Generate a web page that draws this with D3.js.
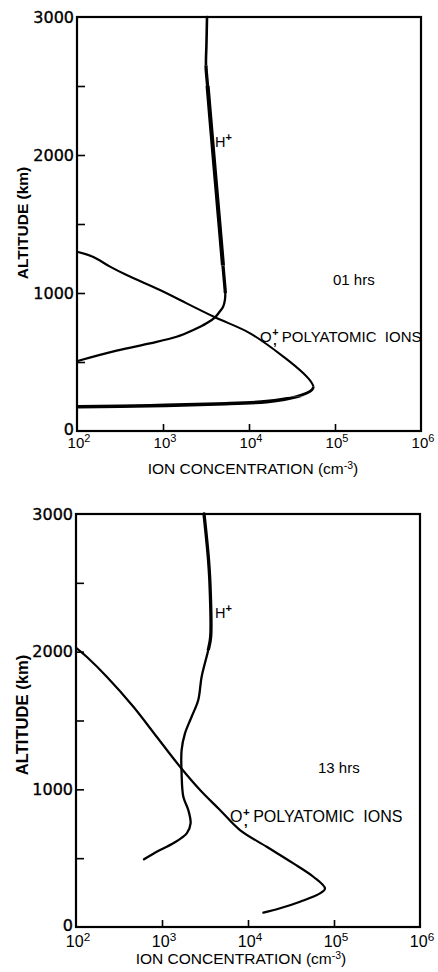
<!DOCTYPE html>
<html>
<head>
<meta charset="utf-8">
<script src="https://cdn.jsdelivr.net/npm/d3@7"></script>
<style>
  body { margin: 0; background: #fff; }
  text { font-family: "Liberation Sans", Arial, sans-serif; fill: #000; }
  .num { font-family: "DejaVu Sans", sans-serif; }
</style>
</head>
<body>
<svg id="chart" width="438" height="972"></svg>
<script>
// ---- 01 hrs profiles (altitude in km, concentration in cm^-3) ----
const hAlt01  = [3000, 2800, 2650, 2500, 2000, 1500, 1200, 1050, 1000, 950, 900, 860, 824, 780, 732, 683, 635, 582, 509];
const hConc01 = [3250, 3200, 3160, 3300, 3860, 4530, 4980, 5230, 5300, 5250, 5000, 4500, 4030, 3210, 2250, 1440, 706, 289, 104];

const oAlt01  = [1299, 1263, 1191, 1130, 1022, 949, 824, 708, 539, 418, 350, 321, 297, 249, 213, 196, 183, 176];
const oConc01 = [100, 153, 242, 378, 922, 1580, 4030, 10300, 25100, 42900, 53500, 56000, 53700, 35800, 16000, 4210, 706, 104];

// ---- 13 hrs profiles ----
const hAlt13  = [3000, 2690, 2495, 2108, 2012, 1818, 1649, 1527, 1406, 1285, 1116, 946, 850, 753, 680, 608, 547, 492];
const hConc13 = [3080, 3450, 3610, 3680, 3450, 2890, 2640, 2210, 1850, 1690, 1690, 1770, 2020, 2150, 1940, 1350, 867, 618];

const oAlt13  = [2024, 1963, 1818, 1600, 1382, 1164, 995, 850, 704, 583, 462, 365, 280, 244, 184, 136, 104];
const oConc13 = [102, 133, 228, 465, 867, 1620, 2770, 4720, 8070, 16500, 33700, 57500, 78500, 68700, 40300, 23600, 15100];

// ---- axis ticks ----
const xTickExps   = [2, 3, 4, 5, 6];
const yTickLabels = [0, 1000, 2000, 3000];
const yTickMarks  = [500, 1000, 1500, 2000, 2500];
const xTickMarks  = [1e3, 1e4, 1e5];

const svg = d3.select("#chart");
const defs = svg.append("defs");
let clipId = 0;

function zip(alts, concs) {
  return alts.map((a, i) => ({ a, c: concs[i] }));
}

// "O" with a "+" stacked over a ",", then the rest of the label
function ionLabel(g, x, y, fs, rest) {
  const t = g.append("text").attr("x", x).attr("y", y).attr("font-size", fs)
    .attr("xml:space", "preserve");
  t.append("tspan").text("O");
  const plus = t.append("tspan").attr("dx", 0.5).attr("dy", -fs * 0.38)
    .attr("font-size", fs * 0.72).attr("font-weight", "bold").text("+");
  const pw = plus.node().getComputedTextLength();
  t.append("tspan").attr("dx", -pw + 1).attr("dy", fs * 0.6)
    .attr("font-size", fs * 0.8).attr("font-weight", "bold").text(",");
  t.append("tspan").attr("dx", fs * 0.35).attr("dy", -fs * 0.22).text(rest);
}

function drawPanel(p) {
  const x = d3.scaleLog().domain([1e2, 1e6]).range([p.x0, p.x1]);
  const y = d3.scaleLinear().domain([0, 3000]).range([p.y1, p.y0]);
  const g = svg.append("g");
  const k = p.scale;

  const line = d3.line()
    .x(d => x(d.c))
    .y(d => y(d.a))
    .curve(d3.curveCatmullRom.alpha(0.5));

  // each curve is one path; the pen weight changes by altitude band
  p.curves.forEach(cv => {
    const d = line(cv.pts);
    cv.bands.forEach(b => {
      const id = "band" + (clipId++);
      defs.append("clipPath").attr("id", id)
        .append("rect")
        .attr("x", 0).attr("width", 438)
        .attr("y", y(b.hi)).attr("height", y(b.lo) - y(b.hi));
      g.append("path")
        .attr("d", d)
        .attr("clip-path", `url(#${id})`)
        .attr("fill", "none")
        .attr("stroke", "#000")
        .attr("stroke-width", b.w)
        .attr("stroke-linejoin", "round")
        .attr("stroke-linecap", "round");
    });
  });

  // inward tick marks
  g.append("g")
    .attr("transform", `translate(${p.x0},0)`)
    .call(d3.axisLeft(y).tickValues(yTickMarks).tickSize(-8).tickFormat(""))
    .call(a => a.select(".domain").remove())
    .selectAll("line").attr("stroke-width", 1.6);
  g.append("g")
    .attr("transform", `translate(0,${p.y1})`)
    .call(d3.axisBottom(x).tickValues(xTickMarks).tickSize(-7).tickFormat(""))
    .call(a => a.select(".domain").remove())
    .selectAll("line").attr("stroke-width", 1.6);

  // frame
  g.append("rect")
    .attr("x", p.x0).attr("y", p.y0)
    .attr("width", p.x1 - p.x0).attr("height", p.y1 - p.y0)
    .attr("fill", "none").attr("stroke", "#000").attr("stroke-width", 2.2);

  // y tick labels
  yTickLabels.forEach(v => {
    g.append("text")
      .attr("class", "num")
      .attr("x", p.x0 - 3)
      .attr("y", y(v) - (v === 0 ? 2 : 0))
      .attr("dy", "0.36em")
      .attr("text-anchor", "end")
      .attr("font-size", 16)
      .attr("stroke", "#000").attr("stroke-width", 0.35)
      .text(v);
  });

  // x tick labels 10^n
  xTickExps.forEach(e => {
    const t = g.append("text")
      .attr("x", x(Math.pow(10, e)) + 2)
      .attr("y", p.y1 + p.tickDy)
      .attr("text-anchor", "middle")
      .attr("font-size", 15 * k);
    t.append("tspan").text("10");
    t.append("tspan").attr("dy", -6 * k).attr("font-size", 11 * k).text(e);
  });

  // axis titles
  const xt = g.append("text")
    .attr("x", (p.x0 + p.x1) / 2 + p.xTitleShift)
    .attr("y", p.y1 + p.xTitleDy)
    .attr("text-anchor", "middle")
    .attr("font-size", 15.5);
  xt.append("tspan").text("ION CONCENTRATION (cm");
  xt.append("tspan").attr("dy", -5).attr("font-size", 10.5).text("-3");
  xt.append("tspan").attr("dy", 5).text(")");

  g.append("text")
    .attr("transform", `translate(${p.yTitleX},${p.yTitleY}) rotate(-90)`)
    .attr("text-anchor", "middle")
    .attr("font-size", 15.5 * k)
    .attr("font-weight", "bold")
    .text("ALTITUDE (km)");

  // curve labels
  const hl = g.append("text")
    .attr("x", p.hLabel[0]).attr("y", p.hLabel[1])
    .attr("font-size", 14.5);
  hl.append("tspan").text("H");
  hl.append("tspan").attr("dy", -6).attr("font-size", 11).attr("font-weight", "bold").text("+");

  g.append("text")
    .attr("x", p.timeLabel[0]).attr("y", p.timeLabel[1])
    .attr("font-size", 15)
    .text(p.time);

  ionLabel(g, p.oLabel[0], p.oLabel[1], 15 * k, "POLYATOMIC  IONS");
}

drawPanel({
  x0: 77, x1: 421, y0: 17, y1: 431, scale: 1,
  tickDy: 17, xTitleShift: 4, xTitleDy: 43, yTitleX: 28, yTitleY: 223,
  hLabel: [215, 147], timeLabel: [333, 285], time: "01 hrs",
  oLabel: [260, 342],
  curves: [
    { pts: zip(hAlt01, hConc01), bands: [
      { lo: 2650, hi: 3100, w: 2.6 },
      { lo: 2500, hi: 2650, w: 3.3 },
      { lo: 1200, hi: 2500, w: 4.1 },
      { lo: 1000, hi: 1200, w: 3.3 },
      { lo: 0, hi: 1000, w: 2.3 }
    ] },
    { pts: zip(oAlt01, oConc01), bands: [
      { lo: 321, hi: 3100, w: 2.1 },
      { lo: 249, hi: 321, w: 2.7 },
      { lo: 0, hi: 249, w: 3.6 }
    ] }
  ]
});

drawPanel({
  x0: 76, x1: 420, y0: 514, y1: 927, scale: 1.07,
  tickDy: 20, xTitleShift: -7, xTitleDy: 37, yTitleX: 28, yTitleY: 715,
  hLabel: [215, 618], timeLabel: [318, 773], time: "13 hrs",
  oLabel: [230, 822],
  curves: [
    { pts: zip(hAlt13, hConc13), bands: [
      { lo: 2012, hi: 3100, w: 3.3 },
      { lo: 0, hi: 2012, w: 2.3 }
    ] },
    { pts: zip(oAlt13, oConc13), bands: [
      { lo: 0, hi: 3100, w: 2.2 }
    ] }
  ]
});
</script>
</body>
</html>
